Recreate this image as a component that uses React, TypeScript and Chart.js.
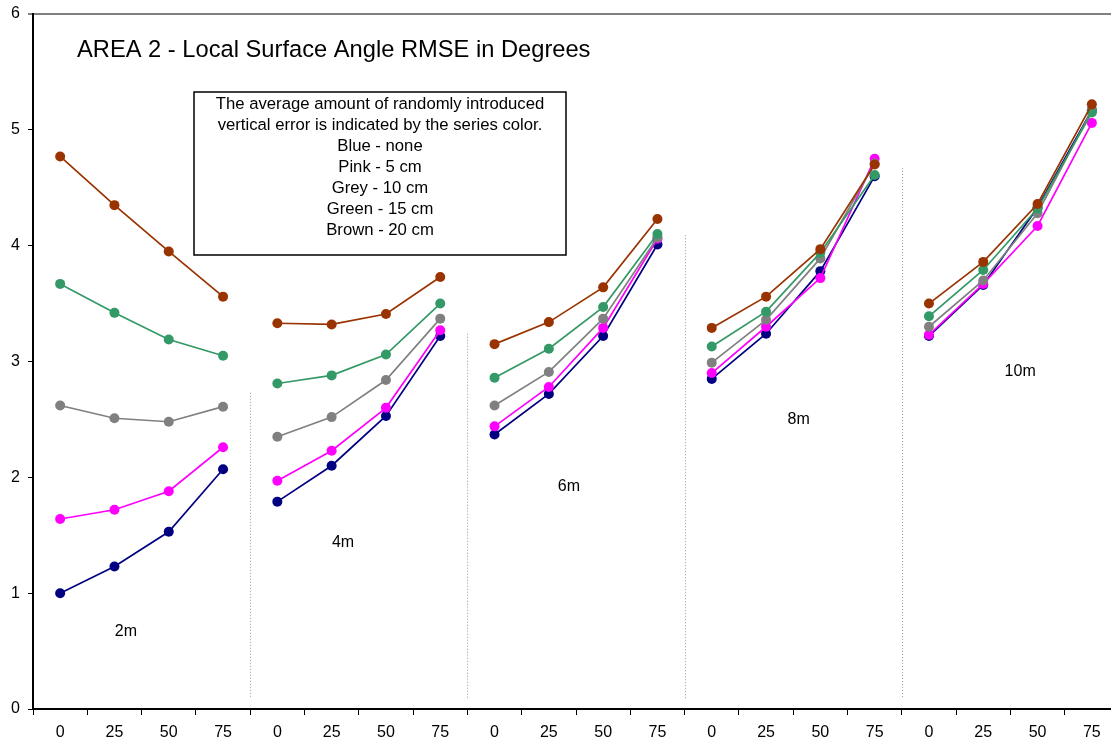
import React, { useEffect, useRef } from "react";
import { Chart, registerables } from "chart.js";

Chart.register(...registerables);

// Offset categories, repeated for each grid spacing group
const offsetLabels = ["0", "25", "50", "75"];
const groupNames = ["2m", "4m", "6m", "8m", "10m"];
const categories = groupNames.flatMap(() => offsetLabels);

// RMSE in degrees per series (vertical error level)
const blueNone = [1.0, 1.23, 1.53, 2.07, 1.79, 2.1, 2.53, 3.22, 2.37, 2.72, 3.22, 4.01, 2.85, 3.24, 3.78, 4.6, 3.22, 3.66, 4.33, 5.17];
const pink5cm = [1.64, 1.72, 1.88, 2.26, 1.97, 2.23, 2.6, 3.27, 2.44, 2.78, 3.29, 4.06, 2.9, 3.3, 3.72, 4.75, 3.23, 3.67, 4.17, 5.06];
const grey10cm = [2.62, 2.51, 2.48, 2.61, 2.35, 2.52, 2.84, 3.37, 2.62, 2.91, 3.37, 4.07, 2.99, 3.36, 3.89, 4.71, 3.3, 3.7, 4.28, 5.17];
const green15cm = [3.67, 3.42, 3.19, 3.05, 2.81, 2.88, 3.06, 3.5, 2.86, 3.11, 3.47, 4.1, 3.13, 3.43, 3.94, 4.61, 3.39, 3.79, 4.32, 5.15];
const brown20cm = [4.77, 4.35, 3.95, 3.56, 3.33, 3.32, 3.41, 3.73, 3.15, 3.34, 3.64, 4.23, 3.29, 3.56, 3.97, 4.7, 3.5, 3.86, 4.36, 5.22];

const yTicks = [0, 1, 2, 3, 4, 5, 6];

const titleText = "AREA 2 - Local Surface Angle RMSE in Degrees";
const noteLines = [
  "The average amount of randomly introduced",
  "vertical error is indicated by the series color.",
  "Blue - none",
  "Pink - 5 cm",
  "Grey - 10 cm",
  "Green - 15 cm",
  "Brown - 20 cm",
];

// Where each group caption sits: x in category-index units, y in data units
const groupLabelX = [1.21, 5.21, 9.37, 13.6, 17.68];
const groupLabelY = [0.67, 1.44, 1.92, 2.5, 2.91];
// Top of the dotted divider between consecutive groups (data units)
const dividerTops = [2.73, 3.24, 4.09, 4.67];
const dividerBottom = 0.09;

const FONT = "'Liberation Sans', Arial, sans-serif";

const series = [
  { label: "Blue - none", data: blueNone, color: "#000080", order: 5 },
  { label: "Pink - 5 cm", data: pink5cm, color: "#FF00FF", order: 4 },
  { label: "Grey - 10 cm", data: grey10cm, color: "#808080", order: 3 },
  { label: "Green - 15 cm", data: green15cm, color: "#339966", order: 2 },
  { label: "Brown - 20 cm", data: brown20cm, color: "#993300", order: 1 },
];

const overlayPlugin = {
  id: "overlay",
  beforeDatasetsDraw(chart: any) {
    const { ctx, scales } = chart;
    const x = scales.x;
    const y = scales.y;
    ctx.save();
    ctx.strokeStyle = "#9a9a9a";
    ctx.lineWidth = 1;
    ctx.setLineDash([1, 2]);
    dividerTops.forEach((top, i) => {
      const idx = (i + 1) * 4;
      const px = Math.round((x.getPixelForValue(idx - 1) + x.getPixelForValue(idx)) / 2) + 0.5;
      ctx.beginPath();
      ctx.moveTo(px, y.getPixelForValue(top));
      ctx.lineTo(px, y.getPixelForValue(dividerBottom));
      ctx.stroke();
    });
    ctx.restore();
  },
  afterDraw(chart: any) {
    const { ctx, scales, chartArea } = chart;
    const x = scales.x;
    const y = scales.y;
    const step = x.getPixelForValue(1) - x.getPixelForValue(0);
    ctx.save();

    // Title
    ctx.fillStyle = "#000";
    ctx.font = `23.7px ${FONT}`;
    ctx.textAlign = "left";
    ctx.textBaseline = "alphabetic";
    ctx.fillText(titleText, chartArea.left + 44, chartArea.top + 43);

    // Note box
    const bx = chartArea.left + 161;
    const by = chartArea.top + 78;
    const bw = 372;
    const bh = 163;
    ctx.fillStyle = "#fff";
    ctx.fillRect(bx, by, bw, bh);
    ctx.strokeStyle = "#000";
    ctx.lineWidth = 1.5;
    ctx.strokeRect(bx, by, bw, bh);
    ctx.fillStyle = "#000";
    ctx.font = `16.7px ${FONT}`;
    ctx.textAlign = "center";
    ctx.textBaseline = "middle";
    noteLines.forEach((line, i) => {
      ctx.fillText(line, bx + bw / 2, by + 12 + i * 21);
    });

    // Group captions
    ctx.font = `16px ${FONT}`;
    groupNames.forEach((name, i) => {
      const px = x.getPixelForValue(0) + groupLabelX[i] * step;
      ctx.fillText(name, px, y.getPixelForValue(groupLabelY[i]));
    });
    ctx.restore();
  },
};

export default function App() {
  const canvasRef = useRef<HTMLCanvasElement | null>(null);

  useEffect(() => {
    const canvas = canvasRef.current;
    if (!canvas) return;
    const chart = new Chart(canvas, {
      type: "line",
      data: {
        labels: categories,
        datasets: series.map((s) => ({
          label: s.label,
          data: s.data,
          borderColor: s.color,
          backgroundColor: s.color,
          pointBackgroundColor: s.color,
          pointBorderColor: s.color,
          pointBorderWidth: 0,
          pointRadius: 5,
          borderWidth: 1.7,
          tension: 0,
          order: s.order,
          segment: {
            borderColor: (c: any) => (c.p0DataIndex % 4 === 3 ? "rgba(0,0,0,0)" : undefined),
          },
        })),
      },
      options: {
        responsive: false,
        animation: false,
        devicePixelRatio: 1,
        layout: { padding: { top: 14, right: 11, left: 0, bottom: 0 } },
        plugins: {
          legend: { display: false },
          tooltip: { enabled: false },
        },
        scales: {
          x: {
            type: "category",
            offset: true,
            grid: {
              offset: true,
              drawOnChartArea: false,
              drawTicks: true,
              tickLength: 6,
              tickColor: "#000",
              tickWidth: 1,
            },
            border: { display: true, color: "#000", width: 2 },
            ticks: {
              color: "#000",
              font: { family: FONT, size: 16 },
              padding: 8,
              maxRotation: 0,
              autoSkip: false,
            },
            afterFit: (scale: any) => {
              scale.height = 35;
              scale.paddingLeft = 0;
              scale.paddingRight = 0;
            },
          },
          y: {
            min: 0,
            max: 6,
            afterBuildTicks: (scale: any) => {
              scale.ticks = yTicks.map((v) => ({ value: v }));
            },
            grid: {
              color: (c: any) => (c.tick && c.tick.value === 6 ? "#808080" : "rgba(0,0,0,0)"),
              lineWidth: (c: any) => (c.tick && c.tick.value === 6 ? 2 : 1),
              drawTicks: true,
              tickLength: 5,
              tickColor: (c: any) => (c.tick && c.tick.value === 6 ? "#808080" : "#000"),
            },
            border: { display: true, color: "#000", width: 2 },
            ticks: {
              color: "#000",
              font: { family: FONT, size: 16 },
              padding: 8,
              callback: (v: any) => String(v),
            },
            afterFit: (scale: any) => {
              scale.width = 33;
              scale.paddingTop = 0;
              scale.paddingBottom = 0;
            },
          },
        },
      },
      plugins: [overlayPlugin],
    });
    return () => chart.destroy();
  }, []);

  return (
    <div
      style={{
        position: "fixed",
        left: 0,
        top: 0,
        width: 1111,
        height: 744,
        overflow: "hidden",
        background: "#fff",
      }}
    >
      <canvas ref={canvasRef} width={1130} height={744} style={{ display: "block" }} />
    </div>
  );
}
